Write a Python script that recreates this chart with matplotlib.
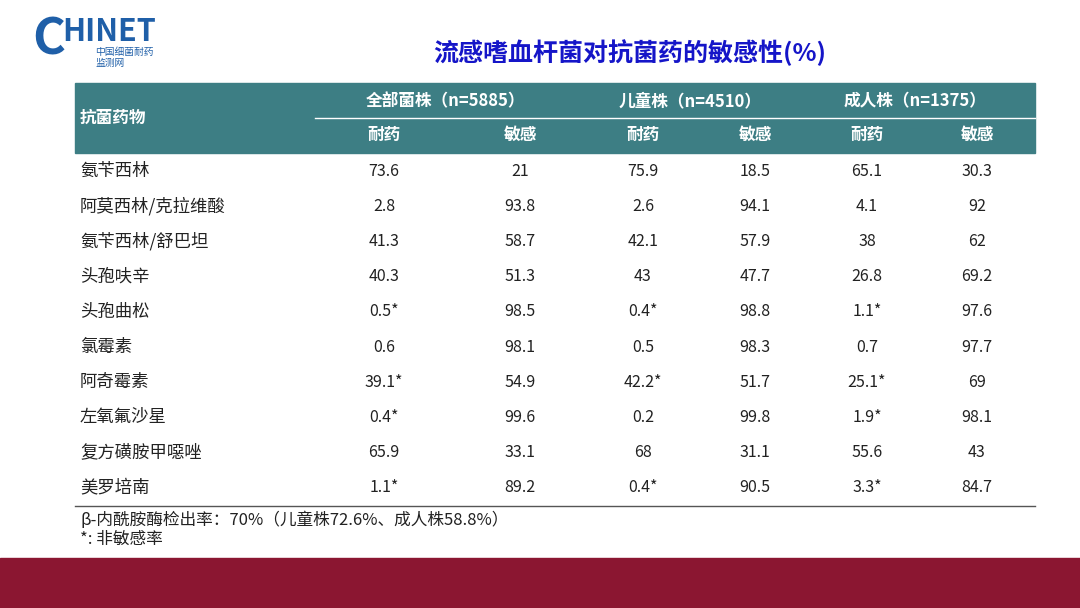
import matplotlib
matplotlib.use("Agg")
import matplotlib.pyplot as plt
from matplotlib.patches import Rectangle

plt.rcParams['font.family'] = ['Noto Sans CJK SC', 'DejaVu Sans']

title = "流感嗜血杆菌对抗菌药的敏感性(%)"
groups = ["全部菌株（n=5885）", "儿童株（n=4510）", "成人株（n=1375）"]
subheads = ["耐药", "敏感"]
drugs = ["氨苄西林", "阿莫西林/克拉维酸", "氨苄西林/舒巴坦", "头孢呋辛", "头孢曲松",
         "氯霉素", "阿奇霉素", "左氧氟沙星", "复方磺胺甲噁唑", "美罗培南"]
all_res = ["73.6", "2.8", "41.3", "40.3", "0.5*", "0.6", "39.1*", "0.4*", "65.9", "1.1*"]
all_sus = ["21", "93.8", "58.7", "51.3", "98.5", "98.1", "54.9", "99.6", "33.1", "89.2"]
ch_res = ["75.9", "2.6", "42.1", "43", "0.4*", "0.5", "42.2*", "0.2", "68", "0.4*"]
ch_sus = ["18.5", "94.1", "57.9", "47.7", "98.8", "98.3", "51.7", "99.8", "31.1", "90.5"]
ad_res = ["65.1", "4.1", "38", "26.8", "1.1*", "0.7", "25.1*", "1.9*", "55.6", "3.3*"]
ad_sus = ["30.3", "92", "62", "69.2", "97.6", "97.7", "69", "98.1", "43", "84.7"]
notes = ["β-内酰胺酶检出率：70%（儿童株72.6%、成人株58.8%）", "*: 非敏感率"]

W, H = 1080, 608
fig = plt.figure(figsize=(W/100, H/100), dpi=100)
ax = fig.add_axes([0, 0, 1, 1])
ax.set_xlim(0, W); ax.set_ylim(H, 0); ax.axis('off')

ax.add_patch(Rectangle((0, 558), W, 50, color='#8B1631'))
# logo
ax.text(32, 40, "C", fontsize=36, color='#1F5FA8', fontweight='bold', va='center')
ax.text(62, 32, "HINET", fontsize=22, color='#1F5FA8', fontweight='bold', fontstyle='italic', va='center')
ax.text(95, 52, "中国细菌耐药", fontsize=7, color='#1F5FA8', va='center')
ax.text(95, 63, "监测网", fontsize=7, color='#1F5FA8', va='center')
ax.text(630, 53, title, fontsize=18, color='#1515C8', fontweight='bold', ha='center', va='center')

hc = '#3D7E84'
ax.add_patch(Rectangle((75, 83), 960, 70, color=hc))
ax.plot([315, 1035], [118, 118], color='white', lw=1)
ax.text(80, 118, "抗菌药物", fontsize=12, color='white', fontweight='bold', va='center')
gx = [445, 690, 915]
for g, x in zip(groups, gx):
    ax.text(x, 101, g, fontsize=12, color='white', fontweight='bold', ha='center', va='center')
cx = [384, 520, 643, 755, 867, 977]
for i, x in enumerate(cx):
    ax.text(x, 135, subheads[i % 2], fontsize=12, color='white', fontweight='bold', ha='center', va='center')

cols = [all_res, all_sus, ch_res, ch_sus, ad_res, ad_sus]
y0, dy = 171, 35.2
for r, d in enumerate(drugs):
    y = y0 + r * dy
    ax.text(80, y, d, fontsize=12.5, color='#222222', va='center')
    for x, col in zip(cx, cols):
        ax.text(x, y, col[r], fontsize=11.5, color='#222222', ha='center', va='center')
ax.plot([75, 1035], [506, 506], color='#555555', lw=1)
ax.text(80, 520, notes[0], fontsize=12, color='#222222', va='center')
ax.text(80, 539, notes[1], fontsize=12, color='#222222', va='center')

fig.savefig("out.png", dpi=100)
